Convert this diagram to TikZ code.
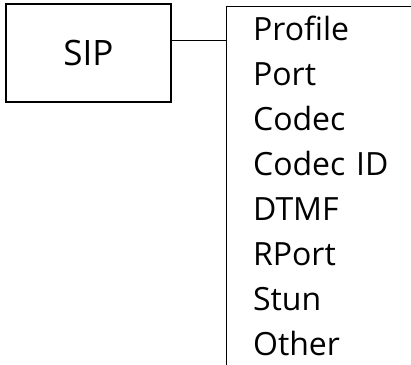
\documentclass[tikz,border=0pt]{standalone}
\usepackage{fontspec}
\setmainfont{Open Sans}
\usetikzlibrary{calc}

\tikzset{
  mainbox/.style={draw, line width=1.2pt, minimum width=165pt, minimum height=98pt,
    font=\fontsize{35}{40}\selectfont, inner sep=0pt},
  listbox/.style={draw, line width=1.2pt, anchor=north west, align=left,
    text width=300pt, inner xsep=27pt, inner ysep=9pt,
    font=\fontsize{32}{45}\selectfont},
}

\begin{document}
\begin{tikzpicture}[x=1pt, y=-1pt]
  \useasboundingbox (0,0) rectangle (411,364);
  \clip (0,0) rectangle (411,364);

  \node[mainbox] (sip) at (88.5,53) {SIP}; %
  \node[listbox] (params) at (225.5,6) {Profile\\Port\\Codec\\Codec ID\\DTMF\\RPort\\Stun\\Other\\\mbox{}}; %

  \coordinate (sipout) at ($(sip.north east)!0.378!(sip.south east)$);
  \draw[line width=1.2pt] (sipout) -- (sipout -| params.west);

\end{tikzpicture}
\end{document}
